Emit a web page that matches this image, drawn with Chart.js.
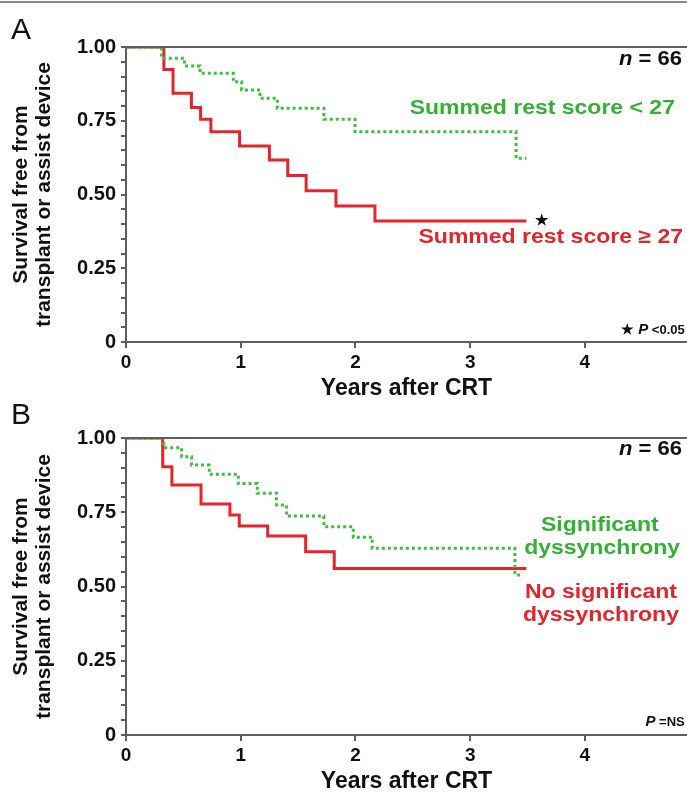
<!DOCTYPE html>
<html>
<head>
<meta charset="utf-8">
<script src="https://cdn.jsdelivr.net/npm/chart.js@4.4.0/dist/chart.umd.min.js"></script>
<style>
  html, body { margin: 0; padding: 0; background: #fff; }
  body { width: 687px; height: 793px; position: relative; overflow: hidden; font-family: "Liberation Sans", Arial, sans-serif; }
  .topline { position: absolute; left: 0; top: 1px; width: 687px; height: 2px; background: #8a8a8a; }
  .panel-letter { position: absolute; left: 11px; font-size: 30px; color: #111; line-height: 1; z-index: 2; }
  canvas { position: absolute; left: 0; }
</style>
</head>
<body>
<div class="topline"></div>
<canvas id="chartA" width="687" height="400" style="top:0"></canvas>
<canvas id="chartB" width="687" height="401" style="top:392px"></canvas>
<div class="panel-letter" style="top:14px">A</div>
<div class="panel-letter" style="top:399px">B</div>
<script>
// Axis ticks
const xTicks = [0, 1, 2, 3, 4];
const yTickValues = [0, 0.25, 0.5, 0.75, 1];
const yTickLabels = ['0', '0.25', '0.50', '0.75', '1.00'];

// Panel A - summed rest score
const timesA_high = [0, 0.33, 0.41, 0.57, 0.65, 0.74, 0.99, 1.25, 1.41, 1.57, 1.83, 2.17, 3.49];
const survA_high  = [1.00, 0.924, 0.843, 0.795, 0.755, 0.713, 0.664, 0.617, 0.564, 0.513, 0.461, 0.41, 0.41];
const timesA_low  = [0, 0.31, 0.51, 0.645, 0.935, 1.008, 1.168, 1.319, 1.725, 1.996, 3.40, 3.49];
const survA_low   = [1.00, 0.962, 0.936, 0.911, 0.882, 0.854, 0.826, 0.792, 0.755, 0.713, 0.623, 0.623];

// Panel B - dyssynchrony
const timesB_sig   = [0, 0.33, 0.485, 0.572, 0.726, 0.979, 1.144, 1.313, 1.40, 1.725, 1.981, 2.146, 3.39, 3.46];
const survB_sig    = [1.00, 0.967, 0.937, 0.909, 0.878, 0.847, 0.814, 0.774, 0.737, 0.701, 0.666, 0.629, 0.539, 0.539];
const timesB_nosig = [0, 0.32, 0.40, 0.654, 0.906, 0.987, 1.235, 1.566, 1.815, 3.49];
const survB_nosig  = [1.00, 0.903, 0.842, 0.778, 0.741, 0.704, 0.670, 0.617, 0.561, 0.561];

const RED = '#e4252b';
const GREEN = '#3dbe3d';
const GREEN_TEXT = '#34b034';
const RED_TEXT = '#e0262c';
const AXIS = '#5e5e5e';
const INK = '#111';
const FONT = "'Liberation Sans', Arial, Helvetica, sans-serif";

function toPoints(times, surv) {
    return times.map((t, i) => ({ x: t, y: surv[i] }));
}

// draw a line of text made of styled parts (italic P, n...)
function drawRich(ctx, parts, x, y, align, size, color, stretch) {
    const sx = stretch || 1;
    const fontOf = p => (p.italic ? 'italic ' : '') + 'bold ' + (p.size || size) + 'px ' + FONT;
    const widths = parts.map(p => { ctx.font = fontOf(p); return ctx.measureText(p.text).width * sx; });
    const total = widths.reduce((a, b) => a + b, 0);
    let cx = align === 'right' ? x - total : align === 'center' ? x - total / 2 : x;
    ctx.fillStyle = color;
    ctx.textBaseline = 'middle';
    ctx.textAlign = 'left';
    parts.forEach((p, i) => {
        ctx.save();
        ctx.font = fontOf(p);
        ctx.translate(cx, y);
        ctx.scale(sx, 1);
        ctx.fillText(p.text, 0, 0);
        ctx.restore();
        cx += widths[i];
    });
}

const kmNotes = {
    id: 'kmNotes',
    afterDraw(chart, args, opts) {
        const ctx = chart.ctx;
        const a = chart.chartArea;
        const xs = chart.scales.x, ys = chart.scales.y;
        ctx.save();
        // top frame line
        ctx.strokeStyle = AXIS;
        ctx.lineWidth = 2;
        ctx.beginPath();
        ctx.moveTo(a.left, a.top);
        ctx.lineTo(a.right, a.top);
        ctx.stroke();
        (opts.notes || []).forEach(n => {
            drawRich(ctx, n.parts, xs.getPixelForValue(n.x), ys.getPixelForValue(n.y),
                     n.align, n.size, n.color, n.stretch);
        });
        ctx.restore();
    }
};

function makeKM(canvasId, topPad, bottomH, series, notes) {
    return new Chart(document.getElementById(canvasId), {
        type: 'line',
        data: {
            datasets: series.map(s => ({
                label: s.label,
                data: toPoints(s.times, s.surv),
                stepped: true,
                borderColor: s.color,
                borderWidth: 3,
                borderDash: s.dotted ? [3, 3] : [],
                borderCapStyle: 'butt',
                pointRadius: 0,
                fill: false
            }))
        },
        options: {
            responsive: false,
            animation: false,
            devicePixelRatio: 1,
            layout: { padding: { top: topPad, right: 0, left: 0, bottom: 0 } },
            plugins: {
                legend: { display: false },
                tooltip: { enabled: false },
                kmNotes: { notes: notes }
            },
            scales: {
                x: {
                    type: 'linear',
                    min: 0,
                    max: 4.89,
                    afterBuildTicks: s => { s.ticks = xTicks.map(v => ({ value: v })); },
                    afterFit: s => { s.height = bottomH; },
                    grid: { drawOnChartArea: false, drawTicks: true, tickLength: 6, color: AXIS, lineWidth: 2 },
                    border: { color: AXIS, width: 2 },
                    ticks: {
                        color: INK,
                        autoSkip: false,
                        maxRotation: 0,
                        padding: 3,
                        font: { family: FONT, size: 19, weight: 'bold' }
                    },
                    title: {
                        display: true,
                        text: 'Years after CRT',
                        color: INK,
                        padding: { top: 0, bottom: 0 },
                        font: { family: FONT, size: 23, weight: 'bold', lineHeight: 1.0 }
                    }
                },
                y: {
                    min: 0,
                    max: 1,
                    afterFit: s => { s.width = 126; },
                    grid: { drawOnChartArea: false, drawTicks: true, tickLength: 5, color: AXIS, lineWidth: 2 },
                    border: { color: AXIS, width: 2 },
                    ticks: {
                        stepSize: 0.05,
                        autoSkip: false,
                        color: INK,
                        padding: 5,
                        font: { family: FONT, size: 20, weight: 'bold' },
                        callback: v => {
                            const i = yTickValues.findIndex(t => Math.abs(t - v) < 1e-6);
                            return i >= 0 ? yTickLabels[i] : '';
                        }
                    },
                    title: {
                        display: true,
                        text: ['Survival free from', 'transplant or assist device'],
                        color: INK,
                        padding: { top: 10, bottom: 0 },
                        font: { family: FONT, size: 21, weight: 'bold', lineHeight: 1.1 }
                    }
                }
            }
        },
        plugins: [kmNotes]
    });
}

const chartA = makeKM('chartA', 47, 58, [
    { label: 'Summed rest score < 27', times: timesA_low, surv: survA_low, color: GREEN, dotted: true },
    { label: 'Summed rest score ≥ 27', times: timesA_high, surv: survA_high, color: RED, dotted: false }
], [
    { parts: [{ text: 'n', italic: true }, { text: ' = 66' }], x: 4.846, y: 0.956, align: 'right', size: 20, color: INK, stretch: 1.1 },
    { parts: [{ text: 'Summed rest score < 27' }], x: 4.785, y: 0.793, align: 'right', size: 20, color: GREEN_TEXT, stretch: 1.15 },
    { parts: [{ text: 'Summed rest score ≥ 27' }], x: 4.855, y: 0.353, align: 'right', size: 20, color: RED_TEXT, stretch: 1.15 },
    { parts: [{ text: '★' }], x: 3.62, y: 0.41, align: 'center', size: 15, color: INK },
    { parts: [{ text: '★ ', size: 14 }, { text: 'P', italic: true, size: 15 }, { text: ' <0.05', size: 13 }], x: 4.87, y: 0.04, align: 'right', size: 14, color: INK }
]);

const chartB = makeKM('chartB', 46, 58, [
    { label: 'Significant dyssynchrony', times: timesB_sig, surv: survB_sig, color: GREEN, dotted: true },
    { label: 'No significant dyssynchrony', times: timesB_nosig, surv: survB_nosig, color: RED, dotted: false }
], [
    { parts: [{ text: 'n', italic: true }, { text: ' = 66' }], x: 4.846, y: 0.96, align: 'right', size: 20, color: INK, stretch: 1.1 },
    { parts: [{ text: 'Significant' }], x: 4.13, y: 0.706, align: 'center', size: 20, color: GREEN_TEXT, stretch: 1.15 },
    { parts: [{ text: 'dyssynchrony' }], x: 4.15, y: 0.628, align: 'center', size: 20, color: GREEN_TEXT, stretch: 1.15 },
    { parts: [{ text: 'No significant' }], x: 4.14, y: 0.481, align: 'center', size: 20, color: RED_TEXT, stretch: 1.15 },
    { parts: [{ text: 'dyssynchrony' }], x: 4.14, y: 0.402, align: 'center', size: 20, color: RED_TEXT, stretch: 1.15 },
    { parts: [{ text: 'P', italic: true, size: 15 }, { text: ' =NS', size: 13 }], x: 4.87, y: 0.044, align: 'right', size: 14, color: INK }
]);
</script>
</body>
</html>
